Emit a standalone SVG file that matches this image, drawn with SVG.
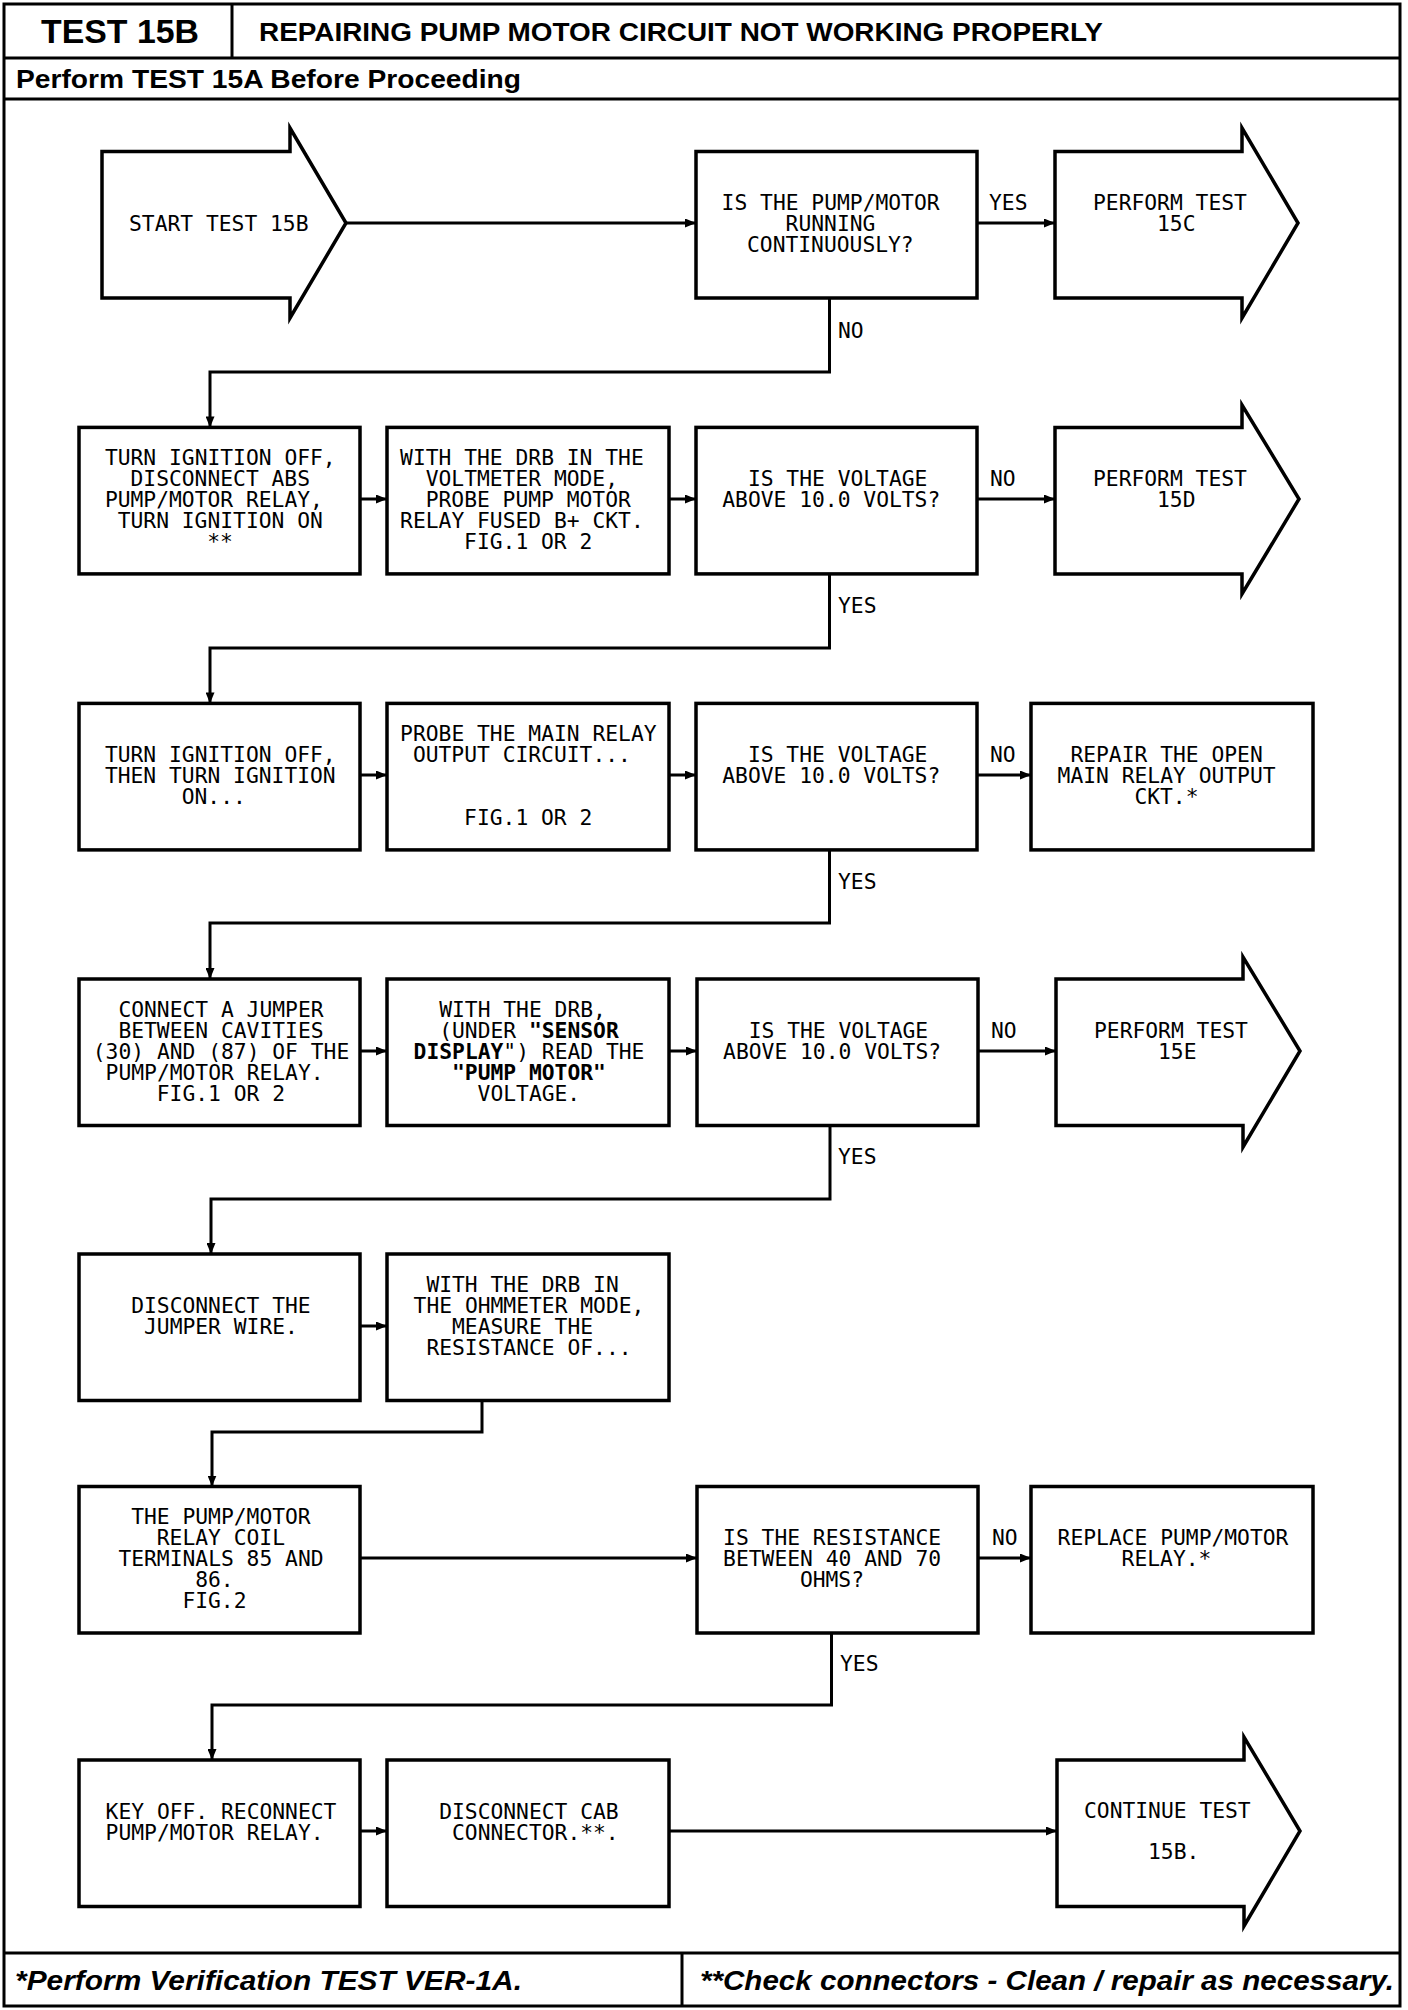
<svg xmlns="http://www.w3.org/2000/svg" width="1408" height="2010" viewBox="0 0 1408 2010">
<style>
.frame{fill:none;stroke:#000;stroke-width:3}
.box{fill:#fff;stroke:#000;stroke-width:3.5}
.conn{fill:none;stroke:#000;stroke-width:3}
.t{font-family:"DejaVu Sans Mono","Liberation Mono",monospace;font-size:21.3px;fill:#000}
.b{font-weight:bold}
.h{font-family:"Liberation Sans",Arial,sans-serif;font-weight:bold;fill:#000}
.f{font-family:"Liberation Sans",Arial,sans-serif;font-weight:bold;font-style:italic;fill:#000}
</style>
<defs>
<marker id="ah" markerUnits="userSpaceOnUse" markerWidth="11" markerHeight="9" refX="11" refY="4.5" orient="auto">
<path d="M0,0 L11,4.5 L0,9 z" fill="#000"/>
</marker>
</defs>
<rect width="1408" height="2010" fill="#fff"/>
<g id="frame">
<rect class="frame" x="4" y="4" width="1396" height="2002"/>
<line class="frame" x1="4" y1="58" x2="1400" y2="58"/>
<line class="frame" x1="232" y1="4" x2="232" y2="58"/>
<line class="frame" x1="4" y1="99" x2="1400" y2="99"/>
<line class="frame" x1="4" y1="1953" x2="1400" y2="1953"/>
<line class="frame" x1="682" y1="1953" x2="682" y2="2006"/>
<text class="h" x="41" y="43" font-size="33" textLength="158" lengthAdjust="spacingAndGlyphs">TEST 15B</text>
<text class="h" x="259" y="41" font-size="25" textLength="844" lengthAdjust="spacingAndGlyphs">REPAIRING PUMP MOTOR CIRCUIT NOT WORKING PROPERLY</text>
<text class="h" x="16" y="88" font-size="26" textLength="505" lengthAdjust="spacingAndGlyphs">Perform TEST 15A Before Proceeding</text>
<text class="f" x="15" y="1990" font-size="27" textLength="507" lengthAdjust="spacingAndGlyphs">*Perform Verification TEST VER-1A.</text>
<text class="f" x="700" y="1990" font-size="27" textLength="694" lengthAdjust="spacingAndGlyphs">**Check connectors - Clean / repair as necessary.</text>
</g>
<g id="connectors">
<path class="conn" marker-end="url(#ah)" d="M346,223 H696"/>
<path class="conn" marker-end="url(#ah)" d="M977,223 H1055"/>
<path class="conn" marker-end="url(#ah)" d="M829.5,298 V372 H210 V427.4"/>
<path class="conn" marker-end="url(#ah)" d="M360,499 H387"/>
<path class="conn" marker-end="url(#ah)" d="M669,499 H696"/>
<path class="conn" marker-end="url(#ah)" d="M977,499 H1055"/>
<path class="conn" marker-end="url(#ah)" d="M829.5,574 V648 H210 V703.4"/>
<path class="conn" marker-end="url(#ah)" d="M360,775 H387"/>
<path class="conn" marker-end="url(#ah)" d="M669,775 H696"/>
<path class="conn" marker-end="url(#ah)" d="M977,775 H1031"/>
<path class="conn" marker-end="url(#ah)" d="M829.5,850 V923 H210 V979"/>
<path class="conn" marker-end="url(#ah)" d="M360,1051 H387"/>
<path class="conn" marker-end="url(#ah)" d="M669,1051 H697"/>
<path class="conn" marker-end="url(#ah)" d="M978,1051 H1056"/>
<path class="conn" marker-end="url(#ah)" d="M830,1125.5 V1199 H211 V1254"/>
<path class="conn" marker-end="url(#ah)" d="M360,1326 H387"/>
<path class="conn" marker-end="url(#ah)" d="M482,1400.5 V1432 H212 V1486.5"/>
<path class="conn" marker-end="url(#ah)" d="M360,1558 H697"/>
<path class="conn" marker-end="url(#ah)" d="M978,1558 H1031"/>
<path class="conn" marker-end="url(#ah)" d="M831.5,1633 V1705 H212 V1760"/>
<path class="conn" marker-end="url(#ah)" d="M360,1831 H387"/>
<path class="conn" marker-end="url(#ah)" d="M669,1831 H1057"/>
<text class="t" x="989" y="210">YES</text>
<text class="t" x="838" y="338">NO</text>
<text class="t" x="990" y="486">NO</text>
<text class="t" x="838" y="613">YES</text>
<text class="t" x="990" y="762">NO</text>
<text class="t" x="838" y="889">YES</text>
<text class="t" x="991" y="1037.6">NO</text>
<text class="t" x="838" y="1164">YES</text>
<text class="t" x="992" y="1545">NO</text>
<text class="t" x="840" y="1671">YES</text>
</g>
<g id="start">
<polygon class="box" points="102,151.5 290,151.5 290,128 346,223 290,318 290,298 102,298"/>
<text class="t" x="129" y="231">START TEST 15B</text>
</g>
<g id="q1">
<rect class="box" x="696" y="151.5" width="281" height="146.5"/>
<text class="t" x="721.6" y="210">IS THE PUMP/MOTOR</text>
<text class="t" x="785.6" y="231">RUNNING</text>
<text class="t" x="747" y="252">CONTINUOUSLY?</text>
</g>
<g id="t15c">
<polygon class="box" points="1055,151.5 1242,151.5 1242,128 1298,223 1242,318 1242,298 1055,298"/>
<text class="t" x="1093" y="210">PERFORM TEST</text>
<text class="t" x="1157" y="231">15C</text>
</g>
<g id="a1">
<rect class="box" x="79" y="427.4" width="281" height="146.5"/>
<text class="t" x="104.9" y="465">TURN IGNITION OFF,</text>
<text class="t" x="130.5" y="486">DISCONNECT ABS</text>
<text class="t" x="104.9" y="507">PUMP/MOTOR RELAY,</text>
<text class="t" x="117.7" y="528">TURN IGNITION ON</text>
<text class="t" x="207.3" y="549">**</text>
</g>
<g id="b1">
<rect class="box" x="387" y="427.4" width="282" height="146.5"/>
<text class="t" x="400.1" y="465">WITH THE DRB IN THE</text>
<text class="t" x="425.7" y="486">VOLTMETER MODE,</text>
<text class="t" x="425.7" y="507">PROBE PUMP MOTOR</text>
<text class="t" x="400.1" y="528">RELAY FUSED B+ CKT.</text>
<text class="t" x="464.1" y="549">FIG.1 OR 2</text>
</g>
<g id="q2">
<rect class="box" x="696" y="427.4" width="281" height="146.5"/>
<text class="t" x="747.9" y="486">IS THE VOLTAGE</text>
<text class="t" x="722.3" y="507">ABOVE 10.0 VOLTS?</text>
</g>
<g id="t15d">
<polygon class="box" points="1055,427.4 1242,427.4 1242,405 1299,499 1242,594 1242,574 1055,574"/>
<text class="t" x="1093" y="486">PERFORM TEST</text>
<text class="t" x="1157" y="507">15D</text>
</g>
<g id="a2">
<rect class="box" x="79" y="703.4" width="281" height="146.5"/>
<text class="t" x="104.9" y="762">TURN IGNITION OFF,</text>
<text class="t" x="104.9" y="783">THEN TURN IGNITION</text>
<text class="t" x="181.7" y="804">ON...</text>
</g>
<g id="b2">
<rect class="box" x="387" y="703.4" width="282" height="146.5"/>
<text class="t" x="400.1" y="741">PROBE THE MAIN RELAY</text>
<text class="t" x="412.9" y="762">OUTPUT CIRCUIT...</text>
<text class="t" x="464.1" y="825">FIG.1 OR 2</text>
</g>
<g id="q3">
<rect class="box" x="696" y="703.4" width="281" height="146.5"/>
<text class="t" x="747.9" y="762">IS THE VOLTAGE</text>
<text class="t" x="722.3" y="783">ABOVE 10.0 VOLTS?</text>
</g>
<g id="e3">
<rect class="box" x="1031" y="703.4" width="282" height="146.5"/>
<text class="t" x="1070.4" y="762">REPAIR THE OPEN</text>
<text class="t" x="1057.6" y="783">MAIN RELAY OUTPUT</text>
<text class="t" x="1134.4" y="804">CKT.*</text>
</g>
<g id="a3">
<rect class="box" x="79" y="979" width="281" height="146.5"/>
<text class="t" x="118.4" y="1016.6">CONNECT A JUMPER</text>
<text class="t" x="118.4" y="1037.6">BETWEEN CAVITIES</text>
<text class="t" x="92.8" y="1058.6">(30) AND (87) OF THE</text>
<text class="t" x="105.6" y="1079.6">PUMP/MOTOR RELAY.</text>
<text class="t" x="156.8" y="1100.6">FIG.1 OR 2</text>
</g>
<g id="b3">
<rect class="box" x="387" y="979" width="282" height="146.5"/>
<text class="t" x="439.2" y="1016.6">WITH THE DRB,</text>
<text class="t" x="439.2" y="1037.6">(UNDER <tspan class="b">"SENSOR</tspan></text>
<text class="t" x="413.6" y="1058.6"><tspan class="b">DISPLAY</tspan>") READ THE</text>
<text class="t b" x="452" y="1079.6">"PUMP MOTOR"</text>
<text class="t" x="477.6" y="1100.6">VOLTAGE.</text>
</g>
<g id="q4">
<rect class="box" x="697" y="979" width="281" height="146.5"/>
<text class="t" x="748.7" y="1037.6">IS THE VOLTAGE</text>
<text class="t" x="723.1" y="1058.6">ABOVE 10.0 VOLTS?</text>
</g>
<g id="t15e">
<polygon class="box" points="1056,979 1243,979 1243,957 1300,1051 1243,1147 1243,1125.5 1056,1125.5"/>
<text class="t" x="1094" y="1037.6">PERFORM TEST</text>
<text class="t" x="1158" y="1058.6">15E</text>
</g>
<g id="a4">
<rect class="box" x="79" y="1254" width="281" height="146.5"/>
<text class="t" x="131.2" y="1312.6">DISCONNECT THE</text>
<text class="t" x="144" y="1333.6">JUMPER WIRE.</text>
</g>
<g id="b4">
<rect class="box" x="387" y="1254" width="282" height="146.5"/>
<text class="t" x="426.4" y="1291.6">WITH THE DRB IN</text>
<text class="t" x="413.6" y="1312.6">THE OHMMETER MODE,</text>
<text class="t" x="452" y="1333.6">MEASURE THE</text>
<text class="t" x="426.4" y="1354.6">RESISTANCE OF...</text>
</g>
<g id="a5">
<rect class="box" x="79" y="1486.5" width="281" height="146.5"/>
<text class="t" x="131.2" y="1524">THE PUMP/MOTOR</text>
<text class="t" x="156.8" y="1545">RELAY COIL</text>
<text class="t" x="118.4" y="1566">TERMINALS 85 AND</text>
<text class="t" x="195.2" y="1587">86.</text>
<text class="t" x="182.4" y="1608">FIG.2</text>
</g>
<g id="q5">
<rect class="box" x="697" y="1486.5" width="281" height="146.5"/>
<text class="t" x="723.1" y="1545">IS THE RESISTANCE</text>
<text class="t" x="723.1" y="1566">BETWEEN 40 AND 70</text>
<text class="t" x="799.9" y="1587">OHMS?</text>
</g>
<g id="k5">
<rect class="box" x="1031" y="1486.5" width="282" height="146.5"/>
<text class="t" x="1057.6" y="1545">REPLACE PUMP/MOTOR</text>
<text class="t" x="1121.6" y="1566">RELAY.*</text>
</g>
<g id="a6">
<rect class="box" x="79" y="1760" width="281" height="146.5"/>
<text class="t" x="105.6" y="1818.6">KEY OFF. RECONNECT</text>
<text class="t" x="105.6" y="1839.6">PUMP/MOTOR RELAY.</text>
</g>
<g id="b6">
<rect class="box" x="387" y="1760" width="282" height="146.5"/>
<text class="t" x="439.2" y="1818.6">DISCONNECT CAB</text>
<text class="t" x="452" y="1839.6">CONNECTOR.**.</text>
</g>
<g id="cont">
<polygon class="box" points="1057,1760 1244,1760 1244,1737 1300,1831 1244,1926 1244,1906.5 1057,1906.5"/>
<text class="t" x="1084" y="1818">CONTINUE TEST</text>
<text class="t" x="1148" y="1859">15B.</text>
</g>
</svg>
